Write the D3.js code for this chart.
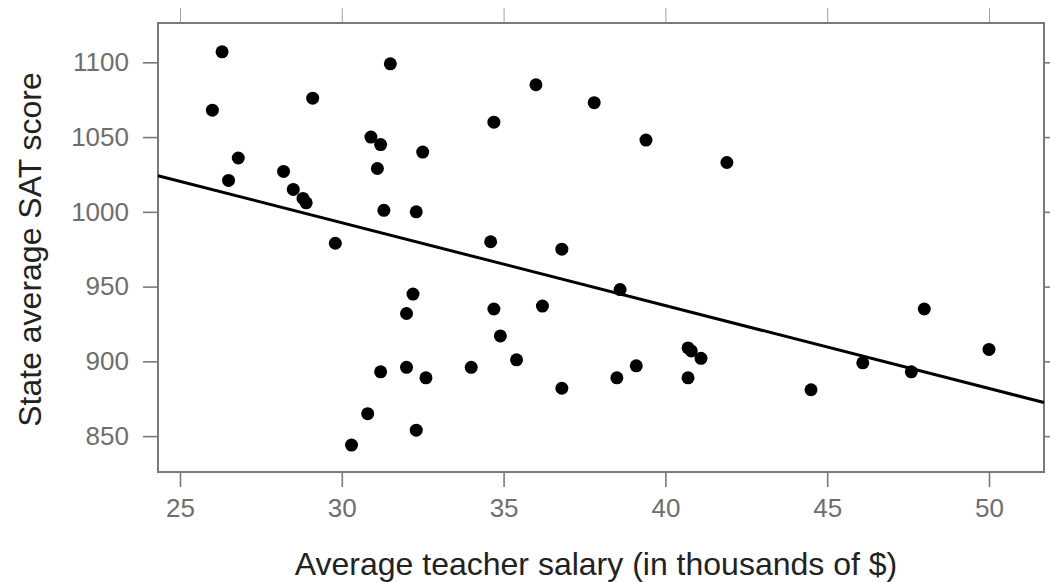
<!DOCTYPE html>
<html>
<head>
<meta charset="utf-8">
<script src="https://cdn.jsdelivr.net/npm/d3@7"></script>
<style>
  body { margin: 0; background: #fff; }
  svg text { font-family: "Liberation Sans", Arial, sans-serif; }
</style>
</head>
<body>
<div id="chart"></div>
<script>
/* SAT score vs teacher salary scatter, lattice style */

// data
var salary = [26.3, 26.0, 26.8, 26.5, 29.1, 28.2, 28.5, 28.8, 28.9, 29.8,
              31.5, 36.0, 37.8, 34.7, 30.9, 31.2, 32.5, 39.4, 31.1, 31.3,
              32.3, 34.6, 36.8, 38.6, 32.2, 32.0, 34.7, 36.2, 34.9, 35.4,
              31.2, 32.0, 32.6, 34.0, 36.8, 38.5, 39.1, 30.8, 32.3, 30.3,
              40.7, 40.8, 41.1, 40.7, 48.0, 50.0, 46.1, 47.6, 44.5, 41.9];
var sat = [1107, 1068, 1036, 1021, 1076, 1027, 1015, 1009, 1006, 979,
           1099, 1085, 1073, 1060, 1050, 1045, 1040, 1048, 1029, 1001,
           1000, 980, 975, 948, 945, 932, 935, 937, 917, 901,
           893, 896, 889, 896, 882, 889, 897, 865, 854, 844,
           909, 907, 902, 889, 935, 908, 899, 893, 881, 1033];

// fitted line: sat = intercept + slope * salary
var fitIntercept = 1158.9,
    fitSlope = -5.54;

var xTicks = [25, 30, 35, 40, 45, 50];
var yTicks = [850, 900, 950, 1000, 1050, 1100];

// set the dimensions and margins of the graph
var margin = {top: 23, right: 6, bottom: 110, left: 158},
    width = 1044 - margin.left,
    height = 472 - margin.top;

var x = d3.scaleLinear().domain([24.32, 51.7]).range([0, width]);
var y = d3.scaleLinear().domain([826, 1126.3]).range([height, 0]);

var svg = d3.select("#chart").append("svg")
    .attr("width", 1050)
    .attr("height", 582);

var g = svg.append("g")
    .attr("transform", "translate(" + margin.left + "," + margin.top + ")");

var axisColor = "#7a7a7a",
    labelColor = "#6e6e6e";

// bottom axis with labels
var xAxis = g.append("g")
    .attr("transform", "translate(0," + height + ")")
    .call(d3.axisBottom(x).tickValues(xTicks).tickSize(15).tickPadding(12)
      .tickFormat(d3.format("d")));

// left axis with labels
var yAxis = g.append("g")
    .call(d3.axisLeft(y).tickValues(yTicks).tickSize(15).tickPadding(14)
      .tickFormat(d3.format("d")));

// top and right axes, ticks only
var topAxis = g.append("g")
    .call(d3.axisTop(x).tickValues(xTicks).tickSize(15).tickFormat(""));
var rightAxis = g.append("g")
    .attr("transform", "translate(" + width + ",0)")
    .call(d3.axisRight(y).tickValues(yTicks).tickSize(15).tickFormat(""));

[xAxis, yAxis, topAxis, rightAxis].forEach(function(a) {
  a.select(".domain").remove();
  a.selectAll("line").attr("stroke", axisColor).attr("stroke-width", 1.6);
  a.selectAll("text")
      .attr("fill", labelColor)
      .style("font-size", "26px");
});
topAxis.selectAll("line").attr("stroke", "#a0a0a0").attr("stroke-width", 1);

// panel border
g.append("rect")
    .attr("width", width)
    .attr("height", height)
    .attr("fill", "none")
    .attr("stroke", axisColor)
    .attr("stroke-width", 2);

// points
var pts = salary.map(function(s, i) { return {salary: s, sat: sat[i]}; });

g.append("g").selectAll("circle")
    .data(pts)
    .enter().append("circle")
    .attr("cx", function(d) { return x(d.salary); })
    .attr("cy", function(d) { return y(d.sat); })
    .attr("r", 6.5)
    .attr("fill", "#000");

// regression line across the panel
var xd = x.domain();
var fitLine = d3.line()
    .x(function(d) { return x(d); })
    .y(function(d) { return y(fitIntercept + fitSlope * d); });

g.append("path")
    .datum(xd)
    .attr("d", fitLine)
    .attr("fill", "none")
    .attr("stroke", "#000")
    .attr("stroke-width", 3);

// axis titles
svg.append("text")
    .attr("x", 596)
    .attr("y", 575)
    .attr("text-anchor", "middle")
    .attr("fill", "#222")
    .style("font-size", "32px")
    .text("Average teacher salary (in thousands of $)");

svg.append("text")
    .attr("transform", "translate(41," + (margin.top + height / 2 + 2) + ") rotate(-90)")
    .attr("text-anchor", "middle")
    .attr("fill", "#222")
    .style("font-size", "32px")
    .text("State average SAT score");
</script>
</body>
</html>
